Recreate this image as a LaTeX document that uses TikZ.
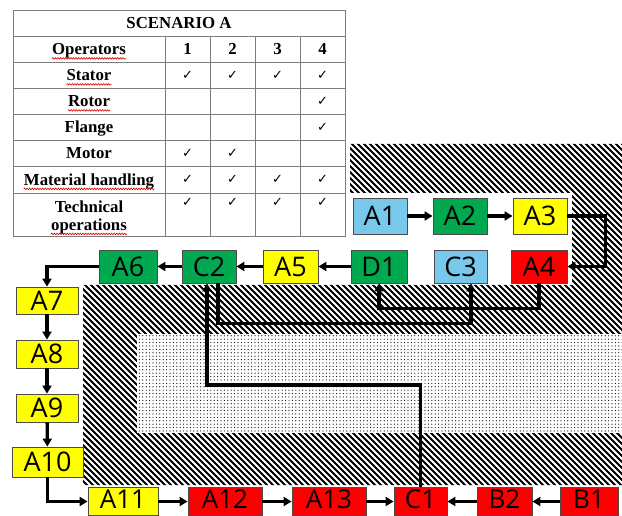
\documentclass[tikz,border=0pt]{standalone}
\usepackage{fontspec}
\setmainfont{Liberation Serif}
\newfontfamily\boxfont{Open Sans}
\newfontfamily\symfont{DejaVu Sans}
\usetikzlibrary{arrows.meta,patterns.meta,decorations.pathmorphing}
\definecolor{cblue}{RGB}{120,200,235}
\definecolor{cgreen}{RGB}{0,168,80}
\definecolor{cyellow}{RGB}{255,255,0}
\definecolor{cred}{RGB}{250,0,0}
\definecolor{gridc}{RGB}{125,125,125}
\begin{document}
\begin{tikzpicture}[x=1pt,y=-1pt,
  blk/.style={draw=black!70, line width=0.8pt, inner sep=0pt,
    font=\fontsize{27}{27}\selectfont\boxfont},
  lowblk/.style={blk, minimum height=28.5pt, text height=18pt, text depth=4pt,
    font=\fontsize{26}{26}\selectfont\boxfont},
  arr/.style={line width=3.3pt, -{Triangle[length=8pt,width=9pt]}},
  tline/.style={draw=gridc, line width=0.8pt},
  ttxt/.style={inner sep=0pt, anchor=base, font=\fontsize{16.8}{17}\selectfont\bfseries},
  chk/.style={inner sep=0pt, font=\fontsize{13}{13}\selectfont\symfont},
  wavy/.style={draw=red!85!black, line width=0.6pt, decorate,
    decoration={snake, amplitude=0.8pt, segment length=2.6pt}},
  hatchln/.style={line width=2.1pt, black}
]
\useasboundingbox (0,0) rectangle (622,516);
\fill[white] (0,0) rectangle (622,516);

% hatched background
\begin{scope}
  \clip (350,144) -- (622,144) -- (622,485) -- (83,485) -- (83,285)
        -- (572,285) -- (572,193) -- (350,193) -- cycle;
  \foreach \i in {-270,-264,...,630} \draw[hatchln] (\i,140) -- ++(410,410);
\end{scope}
% dotted region
\fill[white] (137,334) rectangle (622,433);
\fill[pattern={Dots[distance=3.4pt,radius=0.6pt]}, pattern color=black]
  (137,334) rectangle (622,433);

% table
\draw[tline] (13,10) rectangle (345,236);
\foreach \y in {36,62,88,114,140,166,193} \draw[tline] (13,\y) -- (345,\y);
\foreach \x in {165,210,255,300} \draw[tline] (\x,36) -- (\x,236);
\node[ttxt] (title) at (179,29) {SCENARIO A};
\node[ttxt] (op) at (89,55) {Operators};
\node[ttxt] (n1) at (187.5,55) {1};
\node[ttxt] (n2) at (232.5,55) {2};
\node[ttxt] (n3) at (277.5,55) {3};
\node[ttxt] (n4) at (322.5,55) {4};
\node[ttxt] (st) at (89,81) {Stator};
\node[ttxt] (ro) at (89,107) {Rotor};
\node[ttxt] (fl) at (89,133) {Flange};
\node[ttxt] (mo) at (89,159) {Motor};
\node[ttxt] (mh) at (89,185.5) {Material handling};
\node[ttxt] (te) at (89,212.5) {Technical};
\node[ttxt] (opr) at (89,230.5) {operations};
\foreach \n in {op,st,ro,mh,opr}
  \draw[wavy] ([yshift=-3.4pt]\n.base west) -- ([yshift=-3.4pt]\n.base east);
% check marks
\foreach \x in {187.5,232.5,277.5,322.5} {
  \node[chk] at (\x,75) {✓};
  \node[chk] at (\x,179.5) {✓};
  \node[chk] at (\x,202) {✓};
}
\node[chk] at (322.5,101) {✓};
\node[chk] at (322.5,127) {✓};
\node[chk] at (187.5,153) {✓};
\node[chk] at (232.5,153) {✓};

% boxes
\node[blk, fill=cblue,   minimum width=54pt, minimum height=36pt] (A1) at (380,216) {A1};
\node[blk, fill=cgreen,  minimum width=54pt, minimum height=36pt] (A2) at (460,216) {A2};
\node[blk, fill=cyellow, minimum width=54pt, minimum height=36pt] (A3) at (540,216) {A3};
\node[blk, fill=cgreen,  minimum width=58pt, minimum height=33pt] (A6) at (128,266.5) {A6};
\node[blk, fill=cgreen,  minimum width=54pt, minimum height=33pt] (C2) at (209,266.5) {C2};
\node[blk, fill=cyellow, minimum width=55pt, minimum height=33pt] (A5) at (290.5,266.5) {A5};
\node[blk, fill=cgreen,  minimum width=56pt, minimum height=33pt] (D1) at (379,266.5) {D1};
\node[blk, fill=cblue,   minimum width=53pt, minimum height=33pt] (C3) at (460.5,266.5) {C3};
\node[blk, fill=cred,    minimum width=56pt, minimum height=33pt] (A4) at (539,266.5) {A4};
\node[blk, fill=cyellow, minimum width=62pt, minimum height=27pt] (A7) at (47,300.5) {A7};
\node[blk, fill=cyellow, minimum width=62pt, minimum height=28pt] (A8) at (47,354) {A8};
\node[blk, fill=cyellow, minimum width=62pt, minimum height=28pt] (A9) at (47,408) {A9};
\node[blk, fill=cyellow, minimum width=71pt, minimum height=30pt] (A10) at (47.5,462) {A10};
\node[lowblk, fill=cyellow, minimum width=70pt] (A11) at (123,501.5) {A11};
\node[lowblk, fill=cred,    minimum width=74pt] (A12) at (225,501.5) {A12};
\node[lowblk, fill=cred,    minimum width=74pt] (A13) at (329,501.5) {A13};
\node[lowblk, fill=cred,    minimum width=53pt] (C1) at (420.5,501.5) {C1};
\node[lowblk, fill=cred,    minimum width=55pt] (B2) at (504.5,501.5) {B2};
\node[lowblk, fill=cred,    minimum width=58pt] (B1) at (589,501.5) {B1};

% connectors
\draw[arr] (A1) -- (A2);
\draw[arr] (A2) -- (A3);
\draw[arr] (A3.east) -- ++(38,0) |- (A4.east);
\draw[arr] (D1) -- (A5);
\draw[arr] (A5) -- (C2);
\draw[arr] (C2) -- (A6);
\draw[arr] (A6.west) -| (A7.north);
\draw[arr] (A7) -- (A8);
\draw[arr] (A8) -- (A9);
\draw[arr] (A9) -- (A10);
\draw[arr] (A10.south) |- (A11.west);
\draw[arr] (A11) -- (A12);
\draw[arr] (A12) -- (A13);
\draw[arr] (A13) -- (C1);
\draw[arr] (B2) -- (C1);
\draw[arr] (B1) -- (B2);
\draw[arr] (A4.south) -- ++(0,25) -| (D1.south);
\draw[arr] ([xshift=9pt]C2.south) -- ++(0,40) -| ([xshift=10.5pt]C3.south);
\draw[arr] (C1.north) -- ++(0,-102) -| ([xshift=-2pt]C2.south);
\end{tikzpicture}
\end{document}
